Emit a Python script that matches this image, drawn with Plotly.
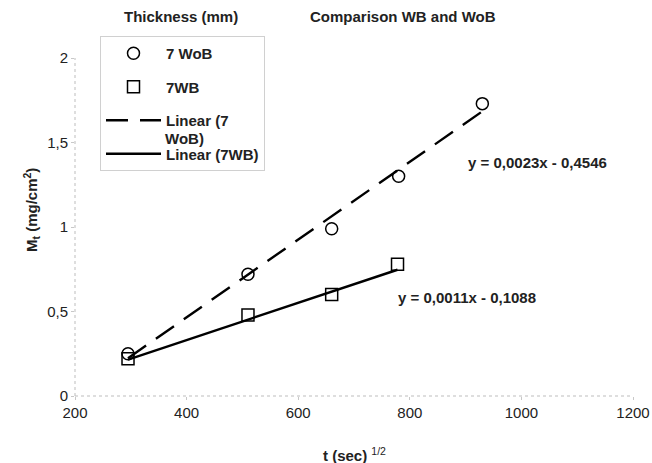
import numpy as np
import plotly.graph_objects as go

# Data
t_wob = [295, 510, 660, 780, 930]
m_wob = [0.25, 0.72, 0.99, 1.30, 1.73]
t_wb = [295, 510, 660, 778]
m_wb = [0.22, 0.48, 0.60, 0.78]
fit_wob = (0.0023, -0.4546)
fit_wb = (0.0011, -0.1088)
eq_wob = "y = 0,0023x - 0,4546"
eq_wb = "y = 0,0011x - 0,1088"
y_ticks = [0, 0.5, 1, 1.5, 2]
y_ticktext = ["0", "0,5", "1", "1,5", "2"]
x_ticks = [200, 400, 600, 800, 1000, 1200]

FONT = "Liberation Sans, Arial, sans-serif"
TXT = "#222222"

fig = go.Figure()

fig.add_trace(go.Scatter(
    x=t_wob, y=m_wob, mode="markers", name="7 WoB", legendgroup="a",
    marker=dict(symbol="circle-open", size=12, color="black", line=dict(width=1.5)),
))
fig.add_trace(go.Scatter(
    x=t_wb, y=m_wb, mode="markers", name="7WB", legendgroup="b",
    marker=dict(symbol="square-open", size=12, color="black", line=dict(width=1.5)),
))
xw = np.array([min(t_wob), max(t_wob)])
fig.add_trace(go.Scatter(
    x=xw, y=fit_wob[0] * xw + fit_wob[1], mode="lines", name="Linear (7",
    legendgroup="c", line=dict(color="black", width=2.4, dash="22px,12px"),
))
xb = np.array([min(t_wb), max(t_wb)])
fig.add_trace(go.Scatter(
    x=xb, y=fit_wb[0] * xb + fit_wb[1], mode="lines", name="Linear (7WB)",
    legendgroup="d", line=dict(color="black", width=2.4),
))

W, H = 652, 463
L, R, T, B = 75, 19, 58, 67
PW, PH = W - L - R, H - T - B


def px(x):
    return (x - L) / PW


def py(y):
    return 1 - (y - T) / PH


annots = [
    dict(text="<b>Thickness (mm)</b>", x=181, y=17, xa="center", ang=0),
    dict(text="<b>Comparison WB and WoB</b>", x=403, y=17, xa="center", ang=0),
    dict(text="<b>" + eq_wob + "</b>", x=537, y=163, xa="center", ang=0),
    dict(text="<b>" + eq_wb + "</b>", x=467, y=297, xa="center", ang=0),
    dict(text="<b>WoB)</b>", x=163, y=138, xa="left", ang=0),
    dict(text="<b>t (sec)</b> <sup>1/2</sup>", x=354, y=454, xa="center", ang=0),
    dict(text="<b>M<sub>t</sub> (mg/cm<sup>2</sup>)</b>", x=31, y=210, xa="center", ang=-90),
]
for a in annots:
    fig.add_annotation(
        text=a["text"], showarrow=False,
        xref="paper", yref="paper",
        x=px(a["x"]), y=py(a["y"]),
        xanchor=a["xa"], yanchor="middle", textangle=a["ang"],
        font=dict(family=FONT, size=15, color=TXT),
    )

# faint dotted axis lines
fig.add_shape(type="line", xref="paper", yref="paper", x0=0, x1=1, y0=0, y1=0,
              line=dict(color="#bdbdbd", width=1, dash="dot"))
fig.add_shape(type="line", xref="paper", yref="paper", x0=0, x1=0, y0=0, y1=1,
              line=dict(color="#bdbdbd", width=1, dash="dot"))

fig.update_layout(
    width=W, height=H,
    margin=dict(l=L, r=R, t=T, b=B, autoexpand=False),
    paper_bgcolor="white", plot_bgcolor="white",
    font=dict(family=FONT, color=TXT),
    showlegend=True,
    legend=dict(
        x=px(100), y=py(36),
        xanchor="left", yanchor="top",
        bgcolor="rgba(255,255,255,0)", bordercolor="#d0d0d0", borderwidth=1,
        font=dict(family=FONT, size=15, color=TXT, weight="bold"),
        tracegroupgap=11, itemwidth=55,
    ),
    xaxis=dict(
        range=[200, 1200], tickvals=x_ticks,
        showgrid=False, zeroline=False, showline=False, automargin=False,
        ticks="outside", ticklen=3, tickcolor="#c8c8c8",
        ticklabeloverflow="allow",
        tickfont=dict(family=FONT, size=15, color=TXT),
    ),
    yaxis=dict(
        range=[0, 2], tickvals=y_ticks, ticktext=y_ticktext,
        showgrid=False, zeroline=False, showline=False, automargin=False,
        ticks="outside", ticklen=3, tickcolor="#c8c8c8",
        ticklabeloverflow="allow",
        tickfont=dict(family=FONT, size=15, color=TXT),
    ),
)

fig.write_html(
    "out.html",
    config={"displayModeBar": False},
    post_script="document.body.style.margin='0';document.body.style.overflow='hidden';",
)
